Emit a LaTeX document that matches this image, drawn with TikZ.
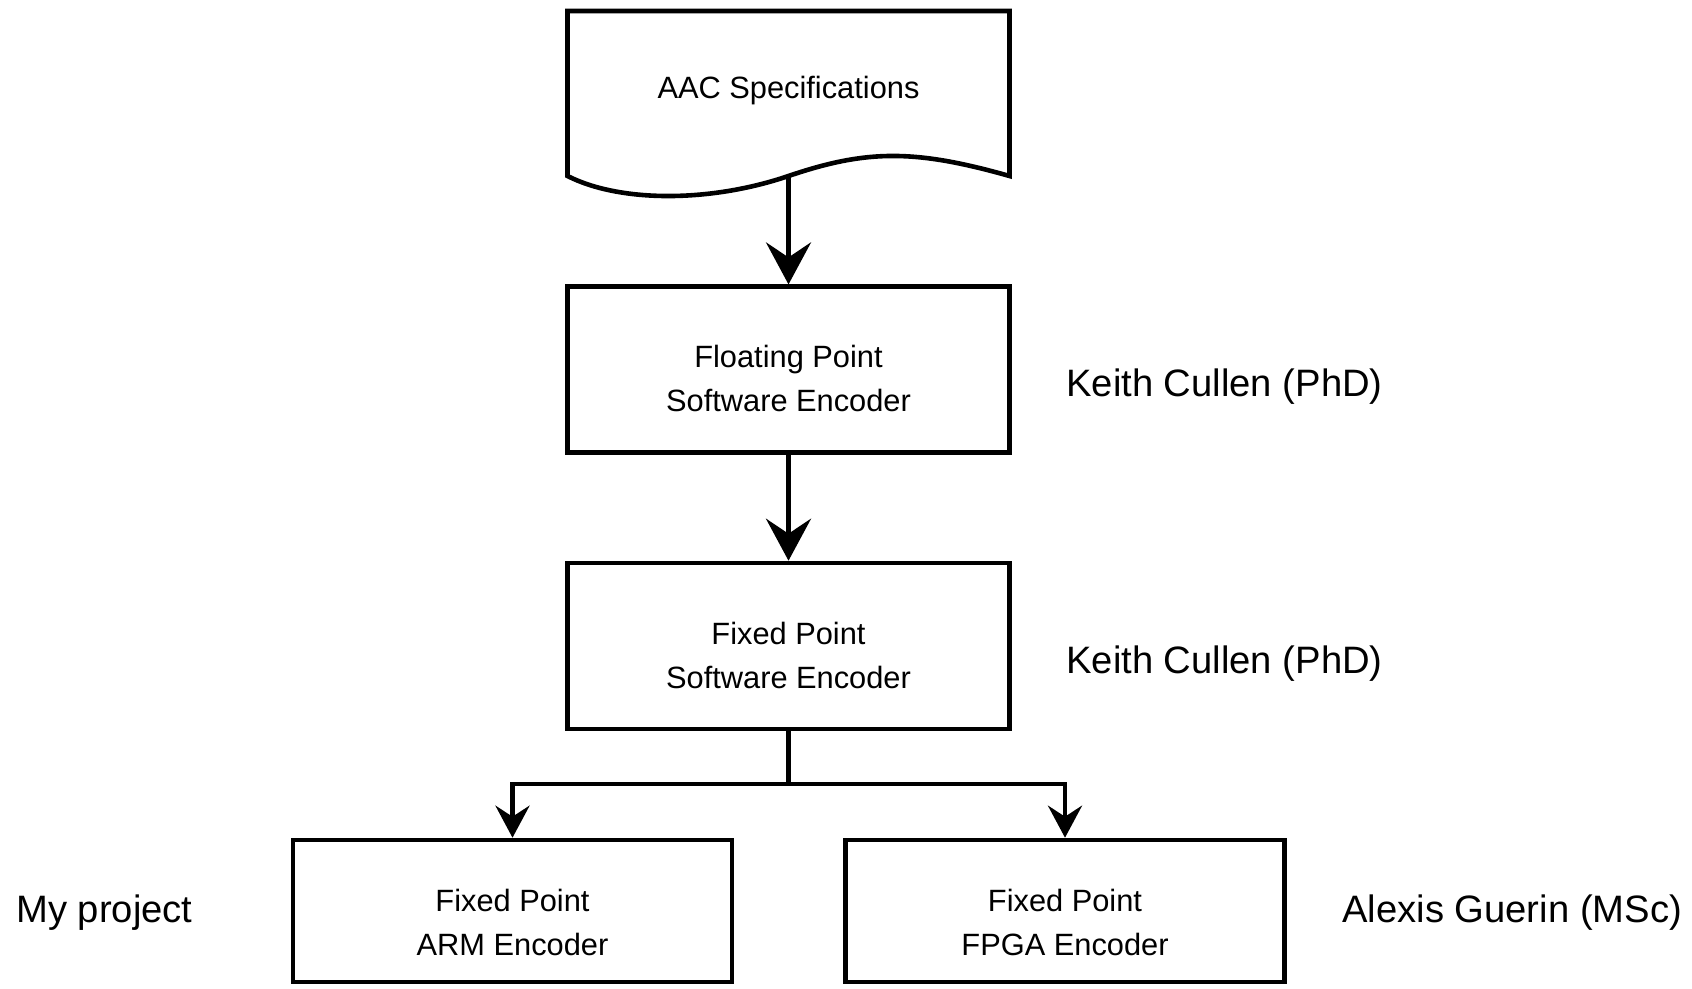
\documentclass[tikz,border=0pt]{standalone}
\usepackage{fontspec}
\setmainfont{Liberation Sans}
\usetikzlibrary{arrows.meta}

\begin{document}
\begin{tikzpicture}[
  x=0.5pt, y=-0.5pt,
  every path/.style={line width=2.3pt},
  boxtext/.style={font=\fontsize{15.4}{22}\selectfont, align=center},
  stagebox/.style={draw, rectangle, boxtext, inner sep=0pt,
    minimum width=221pt, minimum height=83pt, text height=42pt, text depth=0pt},
  targetbox/.style={stagebox, minimum width=219.5pt, minimum height=71pt, text height=44pt},
  who/.style={font=\fontsize{19.1}{23}\selectfont, inner sep=0pt, anchor=base west},
  bigtip/.style={-{Stealth[length=21pt, width=22.5pt, inset=7.5pt]}},
  smalltip/.style={-{Stealth[length=16pt, width=17pt, inset=5.5pt]}}
]
\useasboundingbox (0,0) rectangle (1692,989);

% document symbol for the specification
\coordinate (specbot) at (788.5,176);
\draw (567.5,176) .. controls (620,202.7) and (710,202.7) .. (specbot)
      .. controls (867,149.3) and (915,149.3) .. (1009.5,176)
      -- (1009.5,11) -- (567.5,11) -- cycle;
\node[boxtext, inner sep=0pt, anchor=base] (spec) at (788.5,99) {AAC Specifications};

% encoder stages
\node[stagebox] (flt) at (788.5,369.7) {Floating Point\\Software Encoder};
\node[stagebox] (fix) at (788.5,646) {Fixed Point\\Software Encoder};
\node[targetbox] (arm) at (512.5,911) {Fixed Point\\ARM Encoder};
\node[targetbox] (fpga) at (1065,911) {Fixed Point\\FPGA Encoder};

% people responsible
\node[who] (kc1) at (1064,397) {Keith Cullen (PhD)};
\node[who] (kc2) at (1064,673) {Keith Cullen (PhD)};
\node[who] (me) at (14,922) {My project};
\node[who] (ag) at (1340,922) {Alexis Guerin (MSc)};

% connectors
\draw[bigtip] (specbot) -- (flt.north);
\draw[bigtip] (flt.south) -- (fix.north);
\coordinate (split) at (788.5,784);
\draw[smalltip] (fix.south) -- (split) -| (arm.north);
\draw[smalltip] (split) -| (fpga.north);
\end{tikzpicture}
\end{document}
